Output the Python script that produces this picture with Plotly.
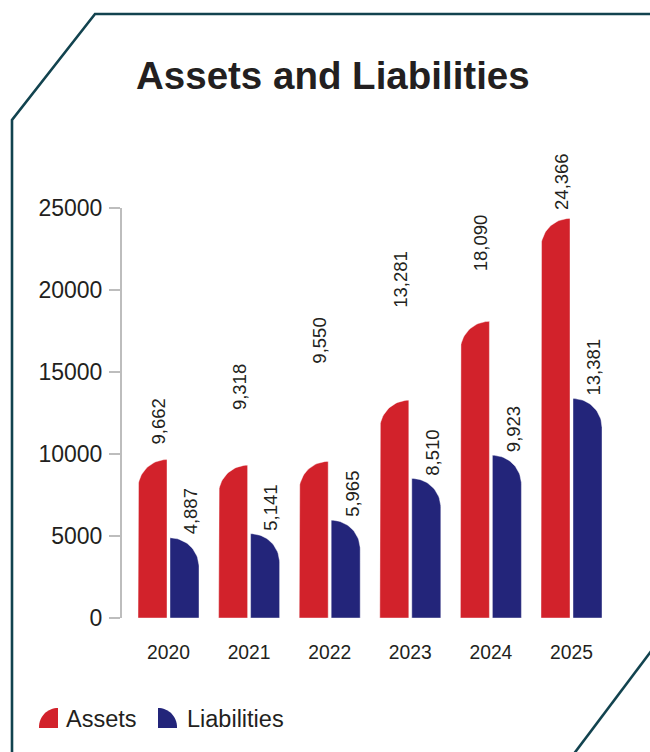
import math
import plotly.graph_objects as go

# ---- data ----
years = ["2020", "2021", "2022", "2023", "2024", "2025"]
assets = [9662, 9318, 9550, 13281, 18090, 24366]
liabilities = [4887, 5141, 5965, 8510, 9923, 13381]
y_tick_values = [0, 5000, 10000, 15000, 20000, 25000]
y_tick_labels = ["0", "5000", "10000", "15000", "20000", "25000"]

# heights (in axis units) where the asset value labels start
asset_label_y = [10430, 12560, 15370, 18780, 21040, 24760]

# ---- layout geometry (pixels) ----
W, H = 650, 752
ML, MR, MT, MB = 122, 20, 208, 134
PW, PH = W - ML - MR, H - MT - MB
CAT_PX = 80.6                      # pixels per category
X0 = -46.5 / CAT_PX
X1 = X0 + PW / CAT_PX
Y_MAX = 25000

BAR_W = 29 / CAT_PX                # bar width in category units
HALF_GAP = 1.5 / CAT_PX
RY = 29 * Y_MAX / PH               # corner curve height in axis units

RED = "#d2222b"
NAVY = "#23257a"
TEXT = "#231f20"
FONT = "Liberation Sans, Arial, sans-serif"


def px_x(px):
    return (px - ML) / PW


def px_y(py):
    return (H - MB - py) / PH


def bar_outline(left, right, top, round_left):
    """Closed outline of a bar with one curved top corner."""
    n = 24
    xs, ys = [left], [0]
    if round_left:
        xs.append(left); ys.append(top - RY)
        for k in range(n + 1):
            t = math.pi - (math.pi / 2) * k / n
            xs.append(right + (right - left) * math.cos(t))
            ys.append(top - RY + RY * math.sin(t))
    else:
        xs.append(left); ys.append(top)
        for k in range(n + 1):
            t = math.pi / 2 - (math.pi / 2) * k / n
            xs.append(left + (right - left) * math.cos(t))
            ys.append(top - RY + RY * math.sin(t))
    xs += [right, left]
    ys += [0, 0]
    return xs, ys


def series_outline(values, side):
    xs, ys = [], []
    for i, v in enumerate(values):
        if side == "left":
            right = i - HALF_GAP
            left = right - BAR_W
            bx, by = bar_outline(left, right, v, True)
        else:
            left = i + HALF_GAP
            right = left + BAR_W
            bx, by = bar_outline(left, right, v, False)
        xs += bx + [None]
        ys += by + [None]
    return xs, ys


fig = go.Figure()

ax, ay = series_outline(assets, "left")
fig.add_trace(go.Scatter(x=ax, y=ay, mode="lines", fill="toself", fillcolor=RED,
                         line=dict(color="rgba(255,255,255,0.7)", width=0.6),
                         name="Assets", hoverinfo="skip", showlegend=False))
lx, ly = series_outline(liabilities, "right")
fig.add_trace(go.Scatter(x=lx, y=ly, mode="lines", fill="toself", fillcolor=NAVY,
                         line=dict(color="rgba(255,255,255,0.7)", width=0.6),
                         name="Liabilities", hoverinfo="skip", showlegend=False))

annotations = []
label_font = dict(family=FONT, size=18.5, color=TEXT)
for i, (a, l) in enumerate(zip(assets, liabilities)):
    annotations.append(dict(
        x=i - HALF_GAP - BAR_W / 2, y=asset_label_y[i], xref="x", yref="y",
        text=f"{a:,}", textangle=-90, showarrow=False,
        xanchor="center", yanchor="bottom", xshift=6, font=label_font))
    annotations.append(dict(
        x=i + HALF_GAP + BAR_W / 2, y=l, xref="x", yref="y",
        text=f"{l:,}", textangle=-90, showarrow=False,
        xanchor="center", yanchor="bottom", xshift=6, yshift=1, font=label_font))

# title
annotations.append(dict(
    x=px_x(333), y=px_y(76), xref="paper", yref="paper",
    text="<b>Assets and Liabilities</b>", showarrow=False,
    xanchor="center", yanchor="middle",
    font=dict(family=FONT, size=38.5, color=TEXT)))

# legend text
legend_font = dict(family=FONT, size=23.5, color=TEXT)
annotations.append(dict(x=px_x(64), y=px_y(719), xref="paper", yref="paper",
                        text="Assets", showarrow=False, xanchor="left",
                        yanchor="middle", font=legend_font))
annotations.append(dict(x=px_x(185), y=px_y(719), xref="paper", yref="paper",
                        text="Liabilities", showarrow=False, xanchor="left",
                        yanchor="middle", font=legend_font))


def legend_path(left, right, top, bottom, round_left):
    n = 16
    r_y = right - left
    pts = [(left, bottom)]
    if round_left:
        pts.append((left, top + r_y))
        for k in range(n + 1):
            t = math.pi - (math.pi / 2) * k / n
            pts.append((right + (right - left) * math.cos(t), top + r_y - r_y * math.sin(t)))
    else:
        pts.append((left, top))
        for k in range(n + 1):
            t = math.pi / 2 - (math.pi / 2) * k / n
            pts.append((left + (right - left) * math.cos(t), top + r_y - r_y * math.sin(t)))
    pts.append((right, bottom))
    return "M " + " L ".join(f"{px_x(x):.5f},{px_y(y):.5f}" for x, y in pts) + " Z"


shapes = [
    dict(type="path", xref="paper", yref="paper",
         path=legend_path(39, 58, 708, 728, True), fillcolor=RED, line=dict(width=0)),
    dict(type="path", xref="paper", yref="paper",
         path=legend_path(158, 177, 708, 728, False), fillcolor=NAVY, line=dict(width=0)),
    # frame outline
    dict(type="path", xref="paper", yref="paper",
         path=(f"M {px_x(655):.5f},{px_y(14):.5f} L {px_x(95):.5f},{px_y(14):.5f} "
               f"L {px_x(12):.5f},{px_y(120):.5f} L {px_x(12):.5f},{px_y(760):.5f}"),
         line=dict(color="#12434f", width=2.6)),
    dict(type="line", xref="paper", yref="paper",
         x0=px_x(652), y0=px_y(650), x1=px_x(573), y1=px_y(755),
         line=dict(color="#12434f", width=2.6)),
]

fig.update_layout(
    width=W, height=H,
    margin=dict(l=ML, r=MR, t=MT, b=MB),
    paper_bgcolor="white", plot_bgcolor="white",
    showlegend=False,
    annotations=annotations,
    shapes=shapes,
    xaxis=dict(range=[X0, X1], tickvals=list(range(len(years))), ticktext=years,
               showline=False, showgrid=False, zeroline=False,
               ticks="outside", ticklen=17, tickcolor="rgba(0,0,0,0)",
               tickfont=dict(family=FONT, size=19.3, color=TEXT), fixedrange=True),
    yaxis=dict(range=[0, Y_MAX], tickvals=y_tick_values, ticktext=y_tick_labels,
               showline=True, linecolor="#bdbdbd", linewidth=2,
               ticks="outside", ticklen=11, tickwidth=2, tickcolor="#bdbdbd",
               ticklabelstandoff=2,
               showgrid=False, zeroline=False,
               tickfont=dict(family=FONT, size=23, color=TEXT), fixedrange=True),
)

fig.write_html("out.html")
